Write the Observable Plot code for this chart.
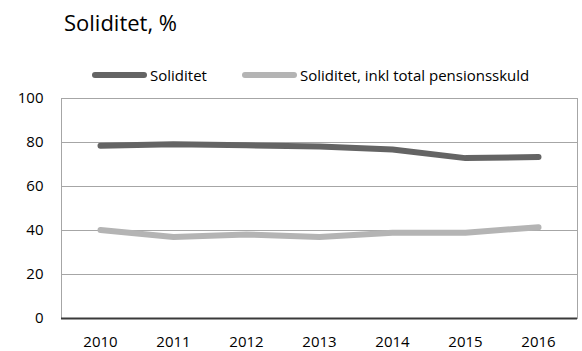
<!DOCTYPE html>
<html>
<head>
<meta charset="utf-8">
<script src="https://cdn.jsdelivr.net/npm/d3@7"></script>
<script src="https://cdn.jsdelivr.net/npm/@observablehq/plot@0.6"></script>
<style>
  html, body { margin: 0; padding: 0; background: #fff; }
  body { width: 582px; height: 351px; position: relative; overflow: hidden; font-family: "Open Sans", sans-serif; color: #000; }
  #title { position: absolute; left: 64px; top: 7px; font-size: 22px; line-height: 30px; z-index: 2; }
  #legend { position: absolute; left: 0; top: 63px; height: 24px; width: 582px; font-size: 15px; z-index: 2; }
  .lg { position: absolute; top: 0; display: flex; align-items: center; height: 24px; }
  .sw { width: 55px; height: 6px; border-radius: 3px; margin-right: 3px; }
  #chart { position: absolute; left: 0; top: 80px; z-index: 1; }
</style>
</head>
<body>
<div id="title">Soliditet, %</div>
<div id="legend"></div>
<div id="chart"></div>
<script>
const years = ["2010", "2011", "2012", "2013", "2014", "2015", "2016"];
const soliditet = [78.5, 79.2, 78.7, 78.2, 76.8, 72.9, 73.4];
const soliditetInkl = [40.2, 37.0, 38.2, 37.0, 39.0, 39.0, 41.5];
const seriesNames = ["Soliditet", "Soliditet, inkl total pensionsskuld"];
const seriesColors = ["#646464", "#b4b4b4"];
const yTicks = [0, 20, 40, 60, 80, 100];

const data = [];
years.forEach((y, i) => {
  data.push({year: y, value: soliditet[i], series: seriesNames[0]});
  data.push({year: y, value: soliditetInkl[i], series: seriesNames[1]});
});

// legend
const legend = document.getElementById("legend");
const legendX = [92, 242];
seriesNames.forEach((name, i) => {
  const item = document.createElement("div");
  item.className = "lg";
  item.style.left = legendX[i] + "px";
  const sw = document.createElement("div");
  sw.className = "sw";
  sw.style.background = seriesColors[i];
  const tx = document.createElement("span");
  tx.textContent = name;
  item.appendChild(sw);
  item.appendChild(tx);
  legend.appendChild(item);
});

const chart = Plot.plot({
  width: 582,
  height: 271,
  marginTop: 18,
  marginBottom: 33,
  marginLeft: 61,
  marginRight: 5,
  style: {fontFamily: "Open Sans, sans-serif", fontSize: "15px", color: "#000", background: "transparent"},
  x: {type: "point", domain: years, padding: 0.5, label: null, tickSize: 0, tickPadding: 18},
  y: {domain: [0, 100], ticks: yTicks, label: null, tickSize: 0, tickPadding: 18},
  color: {domain: seriesNames, range: seriesColors},
  marks: [
    Plot.ruleY(yTicks.filter(d => d > 0), {stroke: "#a6a6a6", strokeWidth: 1, strokeOpacity: 1}),
    Plot.frame({stroke: "#a6a6a6", strokeWidth: 1, strokeOpacity: 1}),
    Plot.lineY(data, {x: "year", y: "value", z: "series", stroke: "series", strokeWidth: 6, strokeLinecap: "round", strokeLinejoin: "round"}),
    Plot.ruleY([0], {stroke: "#3a3a3a", strokeWidth: 2})
  ]
});
document.getElementById("chart").appendChild(chart);
</script>
</body>
</html>
